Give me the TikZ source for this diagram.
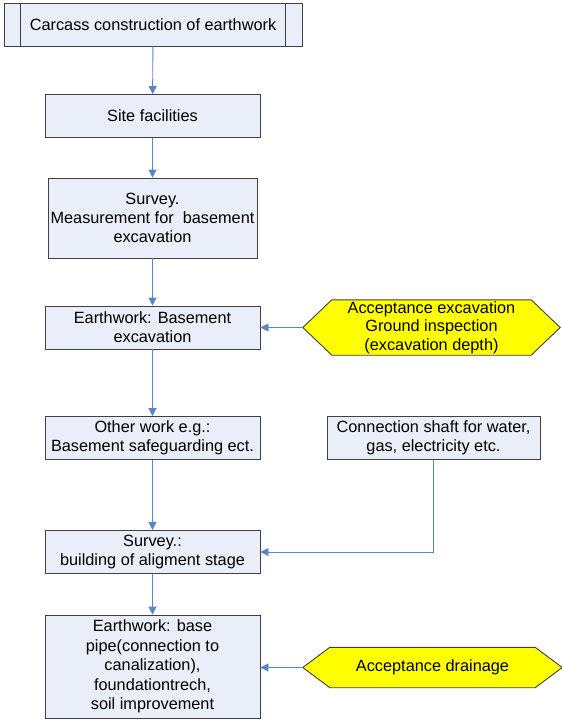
\documentclass[tikz,border=0pt]{standalone}
\usepackage{fontspec}
\setmainfont{Liberation Sans}
\usetikzlibrary{arrows.meta,backgrounds}
\definecolor{boxfill}{RGB}{234,238,248}
\definecolor{boxline}{RGB}{64,64,64}
\definecolor{flowblue}{RGB}{84,134,200}
\definecolor{hexfill}{RGB}{255,255,0}

\begin{document}
\begin{tikzpicture}[-,>={Triangle[length=8pt,width=8pt]},x=1pt,y=-1pt,
	main node/.style={rectangle,draw=boxline,fill=boxfill,line width=0.9pt,align=center,inner sep=0pt,
		minimum width=215,minimum height=43,font=\fontsize{16.3}{19}\selectfont},
	hex node/.style={align=center,inner sep=0pt,minimum height=55,font=\fontsize{16.3}{18.5}\selectfont},
	hex/.style={draw=boxline,fill=hexfill,line width=0.9pt},
	flow/.style={->,color=flowblue,line width=0.9pt}]
	\useasboundingbox (0,0) rectangle (562,720);

	\node[main node,minimum width=298] (1) at (153,24.5) {Carcass construction of earthwork};
	\node[main node] (2) at (152.5,116) {Site facilities};
	\node[main node,minimum width=209,minimum height=80] (3) at (152.5,218) {Survey.\\Measurement for \ basement\\excavation};
	\node[main node] (4) at (152.5,327.5) {Earthwork: Basement\\excavation};
	\node[main node] (5) at (152.5,438) {Other work e.g.:\\Basement safeguarding ect.};
	\node[main node,minimum width=213] (6) at (433.5,438) {Connection shaft for water,\\gas, electricity etc.};
	\node[main node] (7) at (152.5,552) {Survey.:\\building of aligment stage};
	\node[main node,minimum height=103,font=\fontsize{16.3}{19.5}\selectfont] (8) at (152.5,666.5) {Earthwork: base\\pipe(connection to\\canalization),\\foundationtrech,\\soil improvement};
	\node[hex node,minimum width=257] (9) at (431.5,327.5) {Acceptance excavation\\Ground inspection\\(excavation depth)};
	\node[hex node,minimum width=259,minimum height=40] (10) at (432.5,667.5) {Acceptance drainage};

	% predefined process bars and hexagons
	\draw[boxline,line width=0.9pt] ([xshift=17]1.north west) -- ([xshift=17]1.south west)
		([xshift=-17]1.north east) -- ([xshift=-17]1.south east);
	\begin{pgfonlayer}{background}
		\draw[hex] (9.west) -- ([xshift=29]9.north west) -- ([xshift=-29]9.north east) -- (9.east)
			-- ([xshift=-29]9.south east) -- ([xshift=29]9.south west) -- cycle;
		\draw[hex] (10.west) -- ([xshift=27]10.north west) -- ([xshift=-27]10.north east) -- (10.east)
			-- ([xshift=-27]10.south east) -- ([xshift=27]10.south west) -- cycle;
	\end{pgfonlayer}

	\path[flow]
		(1) edge (2)
		(2) edge (3)
		(3) edge (4)
		(4) edge (5)
		(5) edge (7)
		(7) edge (8);
	\draw[flow] (9.west) -- (9.west -| 4.east);
	\draw[flow] (10.west) -- (10.west -| 8.east);
	\draw[flow] (6) |- (7);
\end{tikzpicture}
\end{document}
